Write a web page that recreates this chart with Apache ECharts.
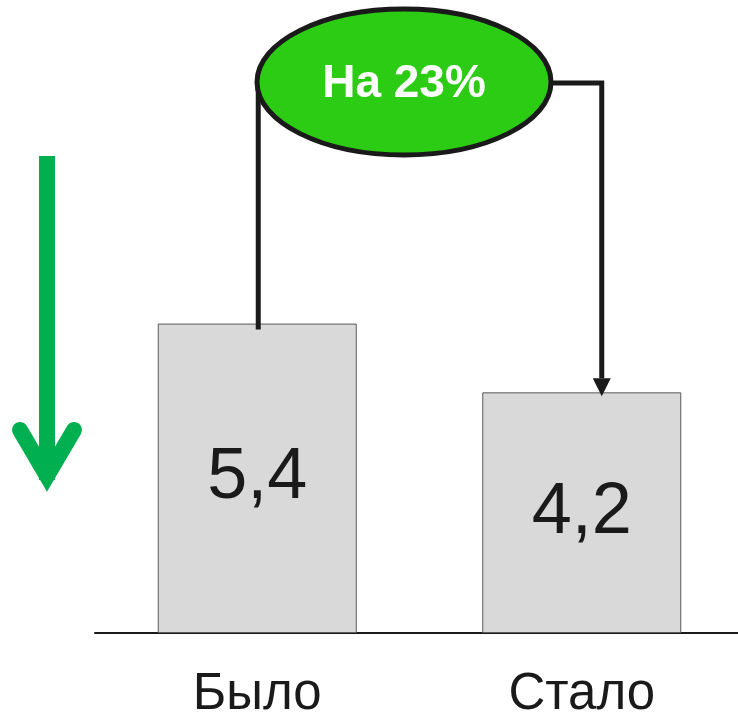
<!DOCTYPE html>
<html>
<head>
<meta charset="utf-8">
<script src="https://cdn.jsdelivr.net/npm/echarts@6/dist/echarts.min.js"></script>
<style>
  html, body { margin: 0; padding: 0; background: #fff; }
  #chart { width: 738px; height: 720px; }
</style>
</head>
<body>
<div id="chart"></div>
<script>
const categories = ['Было', 'Стало'];
const values = [5.4, 4.2];
const valueLabels = ['5,4', '4,2'];
const changeLabel = 'На 23%';

const FONT = '"Liberation Sans", Arial, sans-serif';
const INK = '#1a1a1a';

const chart = echarts.init(document.getElementById('chart'), null, { renderer: 'canvas' });

chart.setOption({
  animation: false,
  backgroundColor: '#ffffff',
  grid: {
    left: 95,
    top: 60,
    bottom: 87,
    width: 649,
    outerBoundsMode: 'none'
  },
  xAxis: {
    type: 'category',
    data: categories,
    axisLine: { show: true, lineStyle: { color: INK, width: 2 } },
    axisTick: { show: false },
    axisLabel: {
      color: INK,
      fontSize: 51,
      fontFamily: FONT,
      margin: 36
    }
  },
  yAxis: {
    type: 'value',
    min: 0,
    max: 10,
    show: false,
    splitLine: { show: false }
  },
  series: [
    {
      type: 'bar',
      data: values,
      barWidth: 199,
      itemStyle: {
        color: '#d9d9d9',
        borderColor: '#5a5a5a',
        borderWidth: 1
      },
      label: {
        show: true,
        position: 'inside',
        color: INK,
        fontSize: 72,
        fontFamily: FONT,
        formatter: function (p) { return valueLabels[p.dataIndex]; }
      }
    }
  ]
});

// connectors anchored to the bar tops
const before = chart.convertToPixel({ seriesIndex: 0 }, [0, values[0]]);
const after = chart.convertToPixel({ seriesIndex: 0 }, [1, values[1]]);

const ell = { cx: 404, cy: 82, rx: 147, ry: 73 };
const rightX = after[0] + 20;
const headLen = 18;

chart.setOption({
  graphic: [
    {
      type: 'polyline',
      z: 10,
      shape: { points: [[before[0] + 1, ell.cy + 2], [before[0] + 1, before[1] + 6]] },
      style: { stroke: INK, lineWidth: 5, fill: null }
    },
    {
      type: 'polyline',
      z: 10,
      shape: { points: [[ell.cx + ell.rx - 2, ell.cy + 1], [rightX, ell.cy + 1], [rightX, after[1] + 4 - headLen]] },
      style: { stroke: INK, lineWidth: 5, fill: null, lineJoin: 'miter' }
    },
    {
      type: 'polygon',
      z: 10,
      shape: { points: [[rightX - 9, after[1] + 4 - headLen], [rightX + 9, after[1] + 4 - headLen], [rightX, after[1] + 4]] },
      style: { fill: INK }
    },
    {
      type: 'ellipse',
      z: 11,
      shape: ell,
      style: { fill: '#2dcc14', stroke: INK, lineWidth: 5 }
    },
    {
      type: 'text',
      z: 12,
      x: ell.cx,
      y: ell.cy + 2,
      style: {
        text: changeLabel,
        fill: '#ffffff',
        fontSize: 46,
        fontWeight: 'bold',
        fontFamily: FONT,
        align: 'center',
        verticalAlign: 'middle'
      }
    },
    // green down arrow on the left
    {
      type: 'polyline',
      z: 10,
      shape: { points: [[47, 156], [47, 480]] },
      style: { stroke: '#00b050', lineWidth: 16, fill: null, lineCap: 'butt' }
    },
    {
      type: 'polyline',
      z: 10,
      shape: { points: [[20, 430], [47, 476], [74, 430]] },
      style: { stroke: '#00b050', lineWidth: 16, fill: null, lineCap: 'round', lineJoin: 'miter', miterLimit: 10 }
    }
  ]
});
</script>
</body>
</html>
